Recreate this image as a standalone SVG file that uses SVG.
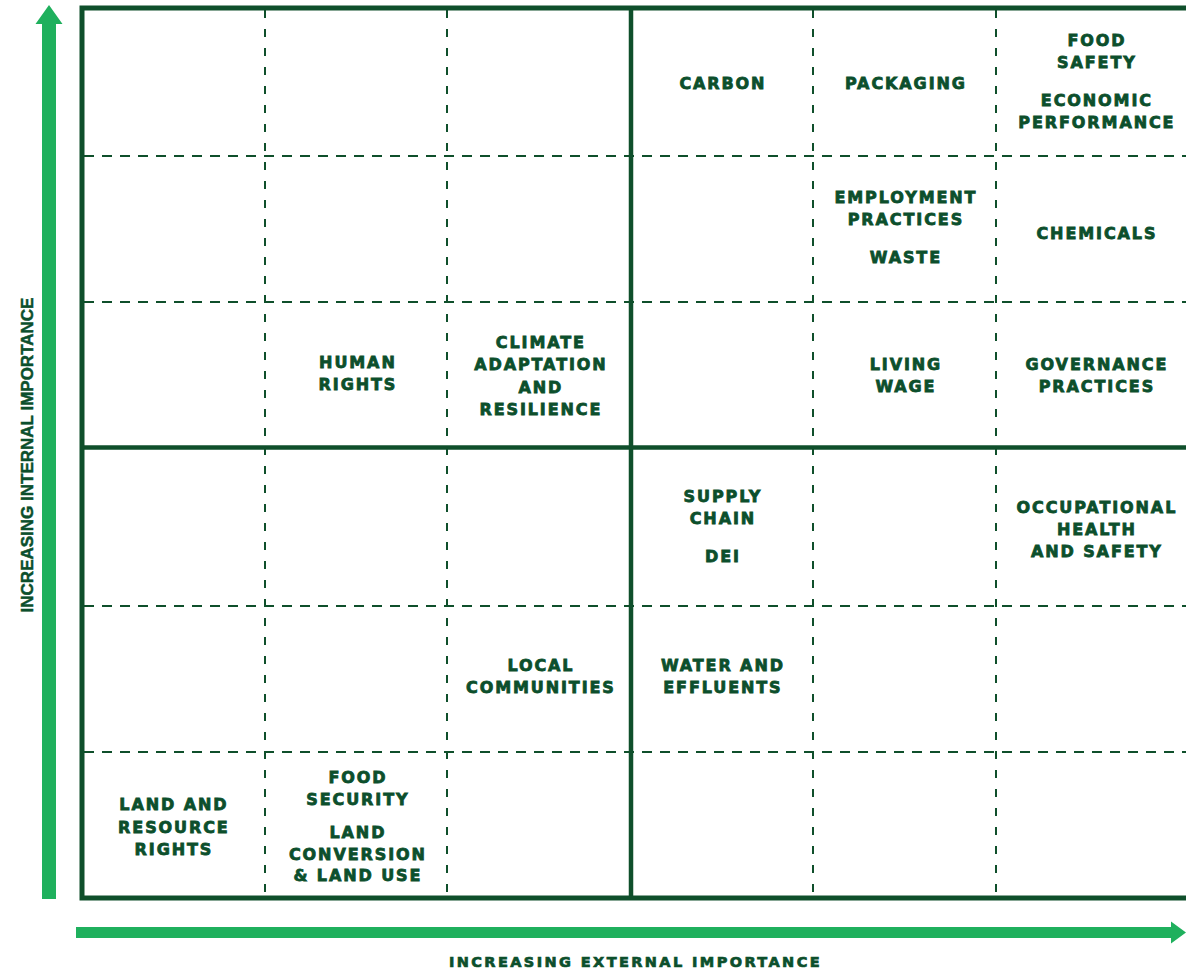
<svg xmlns="http://www.w3.org/2000/svg" width="1186" height="973" viewBox="0 0 1186 973">
<style>
.bg{fill:#ffffff}
.frame{fill:none;stroke:#0f4f2b;stroke-width:5}
.thick{stroke:#0f4f2b;stroke-width:4.5;fill:none}
.dv{stroke:#0f4f2b;stroke-width:2;stroke-dasharray:8 11;fill:none}
.dh{stroke:#0f4f2b;stroke-width:2;stroke-dasharray:10 8;fill:none}
.arrow{fill:#1fb05d}
.t{font-family:"DejaVu Sans","Liberation Sans",sans-serif;font-weight:bold;font-size:16px;letter-spacing:1.9px;fill:#0c4f2c;stroke:#0c4f2c;stroke-width:0.8px;text-anchor:middle}
.ax{font-family:"DejaVu Sans","Liberation Sans",sans-serif;font-weight:bold;font-size:14.5px;letter-spacing:2.4px;fill:#0c4f2c;stroke:#0c4f2c;stroke-width:0.7px;text-anchor:middle}
.ay{font-family:"Liberation Sans",Arial,sans-serif;font-weight:bold;font-size:17px;fill:#0c4f2c;stroke:#0c4f2c;stroke-width:0.5px;text-anchor:middle}
</style>
<rect class="bg" x="0" y="0" width="1186" height="973"/>
<g id="grid">
<line class="dv" x1="265" y1="10" x2="265" y2="896"/>
<line class="dv" x1="447" y1="10" x2="447" y2="896"/>
<line class="dv" x1="813" y1="10" x2="813" y2="896"/>
<line class="dv" x1="996" y1="10" x2="996" y2="896"/>
<line class="dh" x1="84" y1="156" x2="1186" y2="156"/>
<line class="dh" x1="84" y1="302" x2="1186" y2="302"/>
<line class="dh" x1="84" y1="606" x2="1186" y2="606"/>
<line class="dh" x1="84" y1="752" x2="1186" y2="752"/>
<line class="thick" x1="631" y1="8" x2="631" y2="898"/>
<line class="thick" x1="82" y1="447.5" x2="1190" y2="447.5"/>
<rect class="frame" x="82" y="8" width="1120" height="890"/>
</g>
<g id="connectors">
<path class="arrow" d="M42,899 L42,24 L35.5,24 L49,5 L62.5,24 L56,24 L56,899 Z"/>
<path class="arrow" d="M76,927 L1171,927 L1171,921.5 L1186,932.5 L1171,943.5 L1171,938 L76,938 Z"/>
</g>
<g id="axis-x"><text class="ax" x="635.5" y="967">INCREASING EXTERNAL IMPORTANCE</text></g>
<g id="axis-y"><text class="ay" transform="translate(33,455) rotate(-90)" x="0" y="0">INCREASING INTERNAL IMPORTANCE</text></g>
<g id="carbon"><text class="t" x="722.9" y="89">CARBON</text></g>
<g id="packaging"><text class="t" x="905.9" y="89">PACKAGING</text></g>
<g id="food-safety"><text class="t" x="1096.9" y="46">FOOD</text><text class="t" x="1096.9" y="68">SAFETY</text></g>
<g id="economic-performance"><text class="t" x="1096.9" y="106">ECONOMIC</text><text class="t" x="1096.9" y="128">PERFORMANCE</text></g>
<g id="employment-practices"><text class="t" x="905.9" y="203">EMPLOYMENT</text><text class="t" x="905.9" y="225">PRACTICES</text></g>
<g id="waste"><text class="t" x="905.9" y="263">WASTE</text></g>
<g id="chemicals"><text class="t" x="1096.9" y="239">CHEMICALS</text></g>
<g id="human-rights"><text class="t" x="357.9" y="368">HUMAN</text><text class="t" x="357.9" y="390">RIGHTS</text></g>
<g id="climate"><text class="t" x="540.9" y="348">CLIMATE</text><text class="t" x="540.9" y="370">ADAPTATION</text><text class="t" x="540.9" y="393">AND</text><text class="t" x="540.9" y="415">RESILIENCE</text></g>
<g id="living-wage"><text class="t" x="905.9" y="370">LIVING</text><text class="t" x="905.9" y="392">WAGE</text></g>
<g id="governance"><text class="t" x="1096.9" y="370">GOVERNANCE</text><text class="t" x="1096.9" y="392">PRACTICES</text></g>
<g id="supply-chain"><text class="t" x="722.9" y="502">SUPPLY</text><text class="t" x="722.9" y="524">CHAIN</text></g>
<g id="dei"><text class="t" x="722.9" y="562">DEI</text></g>
<g id="ohs"><text class="t" x="1096.9" y="513">OCCUPATIONAL</text><text class="t" x="1096.9" y="535">HEALTH</text><text class="t" x="1096.9" y="557">AND SAFETY</text></g>
<g id="local-communities"><text class="t" x="540.9" y="671">LOCAL</text><text class="t" x="540.9" y="693">COMMUNITIES</text></g>
<g id="water"><text class="t" x="722.9" y="671">WATER AND</text><text class="t" x="722.9" y="693">EFFLUENTS</text></g>
<g id="food-security"><text class="t" x="357.9" y="783">FOOD</text><text class="t" x="357.9" y="805">SECURITY</text></g>
<g id="land-conversion"><text class="t" x="357.9" y="838">LAND</text><text class="t" x="357.9" y="860">CONVERSION</text><text class="t" x="357.9" y="881">&amp; LAND USE</text></g>
<g id="land-resource"><text class="t" x="173.9" y="810">LAND AND</text><text class="t" x="173.9" y="833">RESOURCE</text><text class="t" x="173.9" y="855">RIGHTS</text></g>
</svg>
